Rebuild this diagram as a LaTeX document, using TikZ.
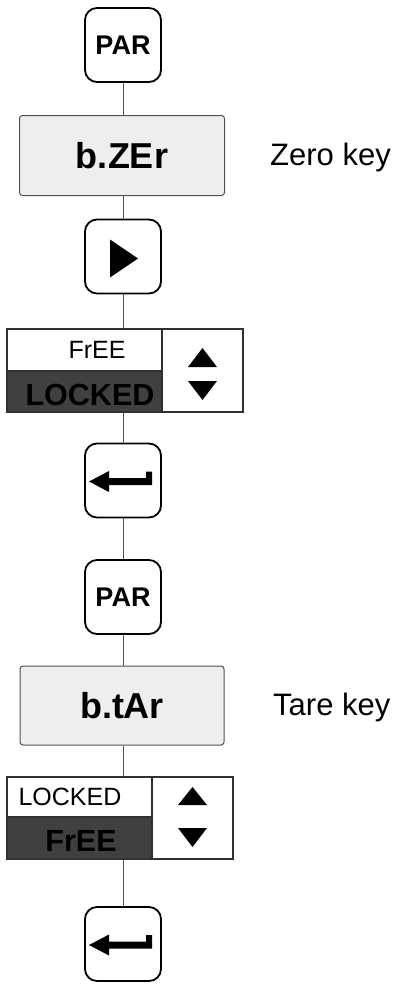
\documentclass[tikz,border=0pt]{standalone}
\usepackage{fontspec}
\setmainfont{Liberation Sans}
\definecolor{lightbox}{HTML}{EEEEEE}
\definecolor{darkcell}{HTML}{404040}
\definecolor{conn}{HTML}{505050}
\definecolor{frame}{HTML}{303030}
\begin{document}
\begin{tikzpicture}[x=1pt,y=-1pt,
  keybox/.style={draw=black, line width=1.8pt, rounded corners=12pt, minimum width=76pt, minimum height=74pt, inner sep=0pt, fill=white},
  keytext/.style={font=\fontsize{27}{27}\selectfont\bfseries},
  parbox/.style={draw=conn, line width=1pt, rounded corners=3pt, fill=lightbox, inner sep=0pt, font=\fontsize{36}{36}\selectfont\bfseries},
  cell/.style={draw=frame, line width=1.2pt, inner sep=0pt},
  selcell/.style={cell, fill=darkcell},
  valplain/.style={anchor=base, inner sep=0pt, font=\fontsize{25}{25}\selectfont},
  valbold/.style={anchor=base, inner sep=0pt, font=\fontsize{30.5}{30.5}\selectfont\bfseries},
  note/.style={anchor=base west, inner sep=0pt, font=\fontsize{31}{31}\selectfont},
  link/.style={draw=conn, line width=1pt}
]
\useasboundingbox (0,0) rectangle (401,985);

% keys and parameter boxes
\node[keybox, keytext] (par1) at (123,45) {PAR};
\node[parbox, minimum width=205pt, minimum height=80pt] (bz) at (122,155.5) {b.ZEr};
\node[note] (zk) at (270,165) {Zero key};
\node[keybox] (play) at (123,256.5) {};
\fill (play.center) ++(-13,-17) -- ++(0,38) -- ++(28,-19) -- cycle;

% display 1
\node[cell, minimum width=155pt, minimum height=42pt] (d1a) at (84.5,350) {};
\node[selcell, minimum width=155pt, minimum height=41pt] (d1b) at (84.5,391.5) {};
\node[cell, minimum width=81pt, minimum height=83pt] (d1c) at (202.5,370.5) {};
\node[valplain] (d1t1) at (97,358) {FrEE};
\node[valbold] (d1t2) at (90,405) {LOCKED};
\fill (202.5,348) -- (217,367) -- (188,367) -- cycle;
\fill (202.5,400) -- (217,381) -- (188,381) -- cycle;

\node[keybox] (ent1) at (123,480.5) {};
\fill (ent1.center) ++(-34,1) -- ++(20,-10.5) -- ++(0,7) -- ++(37,0) -- ++(0,-6.5) -- ++(6,0) -- ++(0,13.5) -- ++(-43,0) -- ++(0,7) -- cycle;

\node[keybox, keytext] (par2) at (123,597) {PAR};
\node[parbox, minimum width=204pt, minimum height=79pt] (bt) at (122,705.5) {b.tAr};
\node[note] (tk) at (273,715) {Tare key};

% display 2
\node[cell, minimum width=145pt, minimum height=40pt] (d2a) at (79.5,797) {};
\node[selcell, minimum width=145pt, minimum height=42pt] (d2b) at (79.5,838) {};
\node[cell, minimum width=81pt, minimum height=82pt] (d2c) at (192.5,818) {};
\node[valplain] (d2t1) at (70,805) {LOCKED};
\node[valbold] (d2t2) at (81,851) {FrEE};
\fill (192.5,787) -- (207,805) -- (178,805) -- cycle;
\fill (192.5,847) -- (207,828) -- (178,828) -- cycle;

\node[keybox] (ent2) at (123,944) {};
\fill (ent2.center) ++(-34,1) -- ++(20,-10.5) -- ++(0,7) -- ++(37,0) -- ++(0,-6.5) -- ++(6,0) -- ++(0,13.5) -- ++(-43,0) -- ++(0,7) -- cycle;

% connectors
\draw[link] (par1.south) -- (par1.south |- bz.north);
\draw[link] (par1.south |- bz.south) -- (play.north);
\draw[link] (play.south) -- (play.south |- d1a.north);
\draw[link] (ent1.north |- d1b.south) -- (ent1.north);
\draw[link] (ent1.south) -- (par2.north);
\draw[link] (par2.south) -- (par2.south |- bt.north);
\draw[link] (par2.south |- bt.south) -- (par2.south |- d2a.north);
\draw[link] (ent2.north |- d2b.south) -- (ent2.north);
\end{tikzpicture}
\end{document}
